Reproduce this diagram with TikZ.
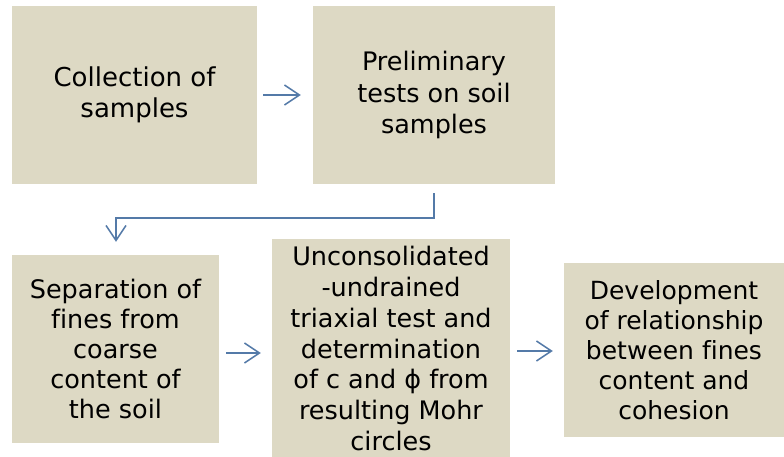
\documentclass[tikz,border=0pt]{standalone}
\usepackage{fontspec}
\setmainfont[Ligatures={TeX,NoCommon}]{DejaVu Sans}
\usetikzlibrary{arrows.meta}
\definecolor{boxfill}{RGB}{221,217,196}
\definecolor{arrowblue}{RGB}{84,122,168}
\tikzset{
  flowbox/.style={fill=boxfill, draw=none, inner sep=0pt, align=center, anchor=center},
  flowarrow/.style={draw=arrowblue, line width=1.5pt, -{Straight Barb[length=15pt,width=20pt,line width=1.5pt]}},
}
\begin{document}
\begin{tikzpicture}[x=1pt,y=1pt]
\useasboundingbox (0,0) rectangle (784,457);
% y_tikz = 457 - y_px
\node[flowbox, minimum width=245pt, minimum height=178pt,
  font=\fontsize{26}{31}\selectfont] (b1) at (134.5,362)
  {Collection of\\samples};
\node[flowbox, minimum width=242pt, minimum height=178pt,
  font=\fontsize{25.5}{31.5}\selectfont] (b2) at (434,362)
  {Preliminary\\tests on soil\\samples};
\node[flowbox, minimum width=207pt, minimum height=188pt,
  font=\fontsize{25.5}{30}\selectfont] (b3) at (115.5,108)
  {Separation of\\fines from\\coarse\\content of\\the soil};
\node[flowbox, minimum width=238pt, minimum height=219pt,
  font=\fontsize{25.5}{30.8}\selectfont] (b4) at (391,108.5)
  {Unconsolidated\\-undrained\\triaxial test and\\determination\\of c and ϕ from\\resulting Mohr\\circles};
\node[flowbox, minimum width=220pt, minimum height=174pt,
  font=\fontsize{25}{30}\selectfont] (b5) at (674,107)
  {Development\\of relationship\\between fines\\content and\\cohesion};

\coordinate (c1) at (434,239);
\coordinate (c2) at (116,239);

\draw[flowarrow, shorten <=6pt, shorten >=12pt] (b1.east) -- (b2.west);
\draw[flowarrow, shorten <=9pt] (b2.south) -- (c1) -- (c2) -- ([yshift=13pt]b3.north -| c2);
\draw[flowarrow, shorten <=7pt, shorten >=11pt] ([yshift=-4pt]b3.east) -- ([yshift=-4pt]b3.east -| b4.west);
\draw[flowarrow, shorten <=7pt, shorten >=11pt] ([yshift=-2.5pt]b4.east) -- ([yshift=-2.5pt]b4.east -| b5.west);
\end{tikzpicture}
\end{document}
